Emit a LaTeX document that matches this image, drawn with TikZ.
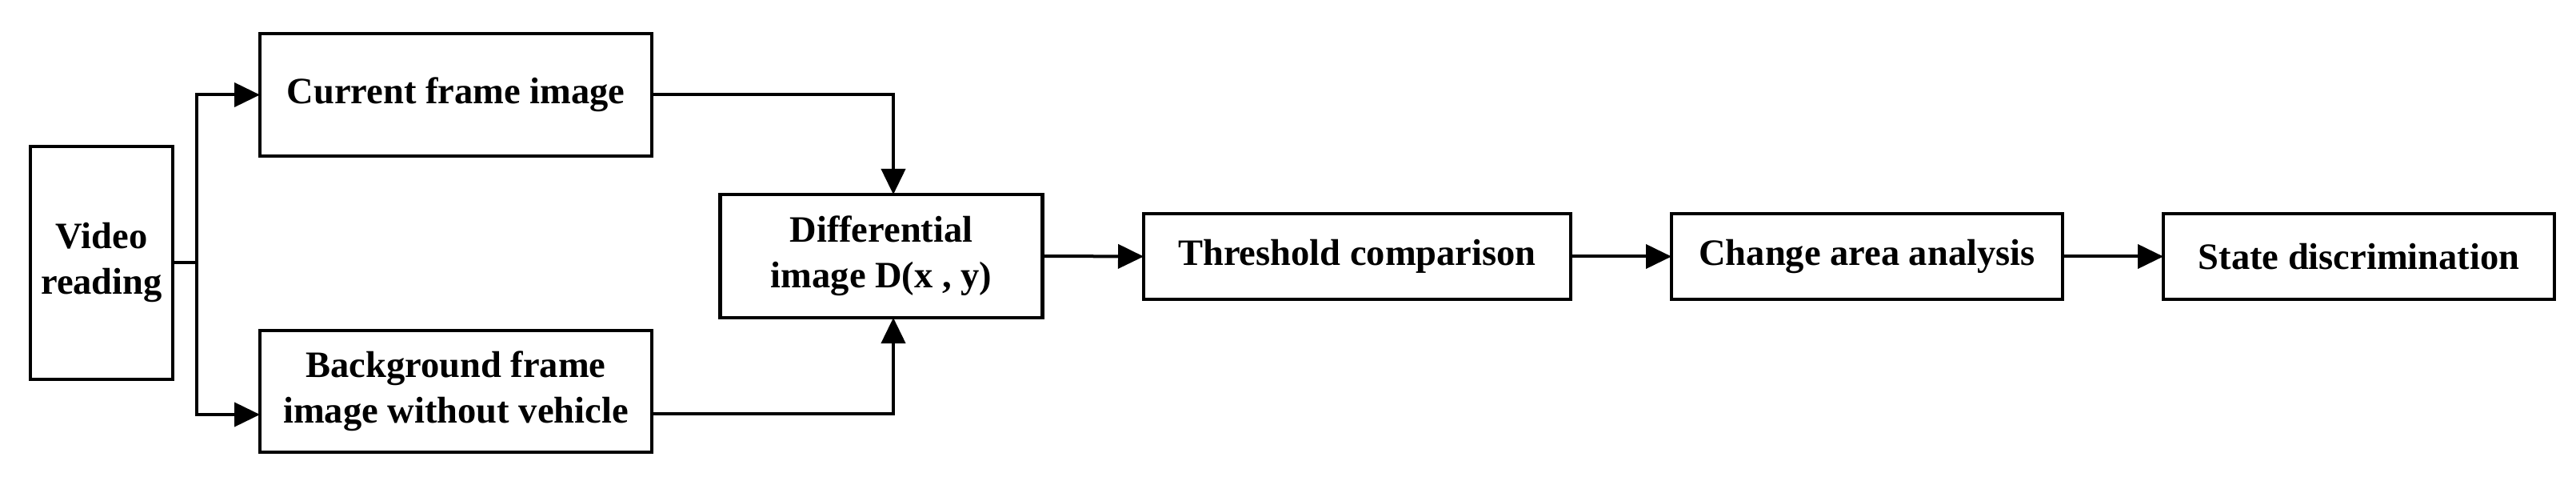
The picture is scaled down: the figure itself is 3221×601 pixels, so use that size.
\documentclass[tikz,border=0pt]{standalone}
\usepackage{fontspec}
\setmainfont{Liberation Serif}
\usetikzlibrary{arrows.meta}
\begin{document}
\begin{tikzpicture}[x=1pt,y=-1pt,
  box/.style={draw=black, line width=4.5pt, fill=white, inner sep=0pt, outer sep=0pt,
    align=center, font=\bfseries\fontsize{46.5}{57}\selectfont},
  conn/.style={draw=black, line width=4pt},
  arr/.style={conn, -{Triangle[length=32pt,width=30pt]}}]
\useasboundingbox (0,0) rectangle (3221,601);
\fill[white] (0,0) rectangle (3221,601);
\node[box, minimum width=178pt, minimum height=291pt] (video) at (127,328.5) {Video\\reading};
\node[box, minimum width=490pt, minimum height=153pt] (cur) at (570,118.5) {Current frame image};
\node[box, minimum width=490pt, minimum height=152pt] (bg) at (570,489) {Background frame\\image without vehicle};
\node[box, minimum width=403pt, minimum height=154pt] (diff) at (1102,320) {Differential\\image D(x , y)};
\node[box, minimum width=534pt, minimum height=107pt] (thr) at (1697,320.5) {Threshold comparison};
\node[box, minimum width=489pt, minimum height=107pt] (chg) at (2334.5,320.5) {Change area analysis};
\node[box, minimum width=489pt, minimum height=107pt] (state) at (2949.5,320.5) {State discrimination};
\coordinate (split) at (246,328.5);
\draw[conn] (video.east) -- (split);
\draw[arr] (split) |- (cur.west);
\draw[arr] (split) |- ([yshift=-29pt]bg.west);
\draw[arr] (cur.east) -| ([xshift=15pt]diff.north);
\draw[arr] ([yshift=-28pt]bg.east) -| ([xshift=15pt]diff.south);
\draw[arr] (diff.east) -- (thr.west);
\draw[arr] (thr.east) -- (chg.west);
\draw[arr] (chg.east) -- (state.west);
\end{tikzpicture}
\end{document}
